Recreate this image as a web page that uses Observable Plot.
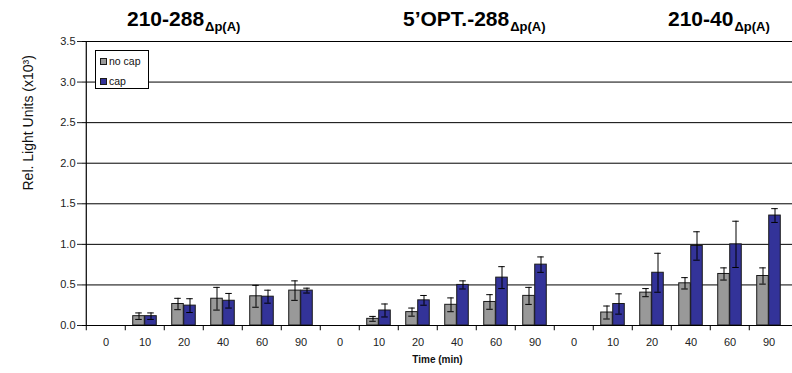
<!DOCTYPE html>
<html>
<head>
<meta charset="utf-8">
<script src="https://cdn.jsdelivr.net/npm/d3@7"></script>
<script src="https://cdn.jsdelivr.net/npm/@observablehq/plot@0.6"></script>
<style>
  html, body { margin: 0; padding: 0; background: #fff; }
  #chart { width: 792px; height: 373px; }
  svg { font-family: "Liberation Sans", Arial, sans-serif; }
</style>
</head>
<body>
<div id="chart"></div>
<script>
const groups = ["210-288", "5’OPT.-288", "210-40"];
const subscript = "Δp(A)";
const times = ["0", "10", "20", "40", "60", "90"];
const series = ["no cap", "cap"];
const noCap    = [0, 0.115, 0.265, 0.33, 0.36, 0.43,  0, 0.082, 0.165, 0.255, 0.29, 0.365,  0, 0.16, 0.405, 0.52, 0.635, 0.61];
const noCapErr = [0, 0.04, 0.07, 0.14, 0.135, 0.12,   0, 0.03, 0.05, 0.085, 0.09, 0.105,    0, 0.08, 0.05, 0.07, 0.075, 0.1];
const cap      = [0, 0.115, 0.245, 0.305, 0.355, 0.43, 0, 0.185, 0.31, 0.5, 0.59, 0.75,     0, 0.265, 0.65, 0.98, 1.0, 1.355];
const capErr   = [0, 0.04, 0.085, 0.09, 0.08, 0.03,   0, 0.08, 0.06, 0.05, 0.135, 0.095,   0, 0.125, 0.24, 0.175, 0.285, 0.085];
const yTicks = [0, 0.5, 1.0, 1.5, 2.0, 2.5, 3.0, 3.5];

const keys = [];
groups.forEach((g, gi) => times.forEach(t => keys.push(gi + "|" + t)));
const rowsNo = keys.map((k, i) => ({key: k, value: noCap[i], err: noCapErr[i]}));
const rowsCap = keys.map((k, i) => ({key: k, value: cap[i], err: capErr[i]}));

const W = 792, H = 373, mL = 82, mR = 0, mT = 41, mB = 48;
const band = (W - mL - mR) / keys.length;
const half = band / 2;
const barW = 12;
const capW = 7;
const errNo = rowsNo.filter(d => d.err > 0);
const errCap = rowsCap.filter(d => d.err > 0);

const plot = Plot.plot({
  width: W, height: H,
  marginLeft: mL, marginRight: mR, marginTop: mT, marginBottom: mB,
  style: {fontFamily: "Liberation Sans, Arial, sans-serif", background: "#fff"},
  x: {domain: keys, padding: 0, label: null},
  y: {domain: [0, 3.5], label: null},
  marks: [
    Plot.ruleY(yTicks.filter(d => d > 0), {stroke: "#000", strokeWidth: 1}),
    Plot.barY(rowsNo, {x: "key", y: "value", fill: "#999999", stroke: "#1a1a1a", strokeWidth: 1,
      insetLeft: half - barW, insetRight: half}),
    Plot.barY(rowsCap, {x: "key", y: "value", fill: "#333399", stroke: "#1a1a1a", strokeWidth: 1,
      insetLeft: half, insetRight: half - barW}),
    Plot.ruleX(errNo, {x: "key", y1: d => d.value - d.err, y2: d => d.value + d.err, dx: -barW / 2, stroke: "#000"}),
    Plot.ruleX(errCap, {x: "key", y1: d => d.value - d.err, y2: d => d.value + d.err, dx: barW / 2, stroke: "#000"}),
    Plot.tickY(errNo, {x: "key", y: d => d.value + d.err, stroke: "#000",
      insetLeft: half - barW / 2 - capW / 2, insetRight: half + barW / 2 - capW / 2}),
    Plot.tickY(errNo, {x: "key", y: d => d.value - d.err, stroke: "#000",
      insetLeft: half - barW / 2 - capW / 2, insetRight: half + barW / 2 - capW / 2}),
    Plot.tickY(errCap, {x: "key", y: d => d.value + d.err, stroke: "#000",
      insetLeft: half + barW / 2 - capW / 2, insetRight: half - barW / 2 - capW / 2}),
    Plot.tickY(errCap, {x: "key", y: d => d.value - d.err, stroke: "#000",
      insetLeft: half + barW / 2 - capW / 2, insetRight: half - barW / 2 - capW / 2}),
    Plot.ruleY([0], {stroke: "#000", strokeWidth: 1.2}),
    Plot.ruleX([keys[0]], {x: d => d, y1: 0, y2: 3.5, dx: -half, stroke: "#000", strokeWidth: 1.2}),
    Plot.ruleX(keys, {x: d => d, y1: 0, y2: -0.065, dx: -half, stroke: "#000"}),
    Plot.axisY(yTicks, {tickSize: 5, tickPadding: 2, tickFormat: d3.format(".1f"), fontSize: 11, color: "#222", label: null}),
    Plot.axisX({tickSize: 0, tickPadding: 13, tickFormat: d => d.split("|")[1], fontSize: 11, color: "#222", label: null}),
    Plot.text(["Rel. Light Units (x10³)"], {frameAnchor: "left", rotate: -90, dx: -54, dy: 7, fontSize: 14, fill: "#111"}),
    Plot.text(["Time (min)"], {frameAnchor: "bottom", dy: 37, fontSize: 10, fontWeight: "bold", fill: "#111"})
  ]
});

const svg = d3.select(plot);
// Titles
const titleX = [127, 403, 668];
groups.forEach((g, i) => {
  const t = svg.append("text")
    .attr("x", titleX[i]).attr("y", 26).attr("text-anchor", "start")
    .attr("font-size", 21).attr("font-weight", "bold").attr("fill", "#000")
    .text(g);
  t.append("tspan").attr("dy", 5).attr("dx", 1).attr("font-size", 13).text(subscript);
});
// Legend
const lg = svg.append("g").attr("text-anchor", "start");
lg.append("rect").attr("x", 95.5).attr("y", 50.5).attr("width", 53).attr("height", 38)
  .attr("fill", "#fff").attr("stroke", "#000");
const swatch = ["#999999", "#333399"];
series.forEach((s, i) => {
  const y = 58.5 + i * 20;
  lg.append("rect").attr("x", 100.5).attr("y", y).attr("width", 6).attr("height", 6)
    .attr("fill", swatch[i]).attr("stroke", "#1a1a1a");
  lg.append("text").attr("x", 109).attr("y", y + 6.5).attr("text-anchor", "start")
    .attr("font-size", 10.5).attr("fill", "#111").text(s);
});

document.getElementById("chart").appendChild(plot);
</script>
</body>
</html>
